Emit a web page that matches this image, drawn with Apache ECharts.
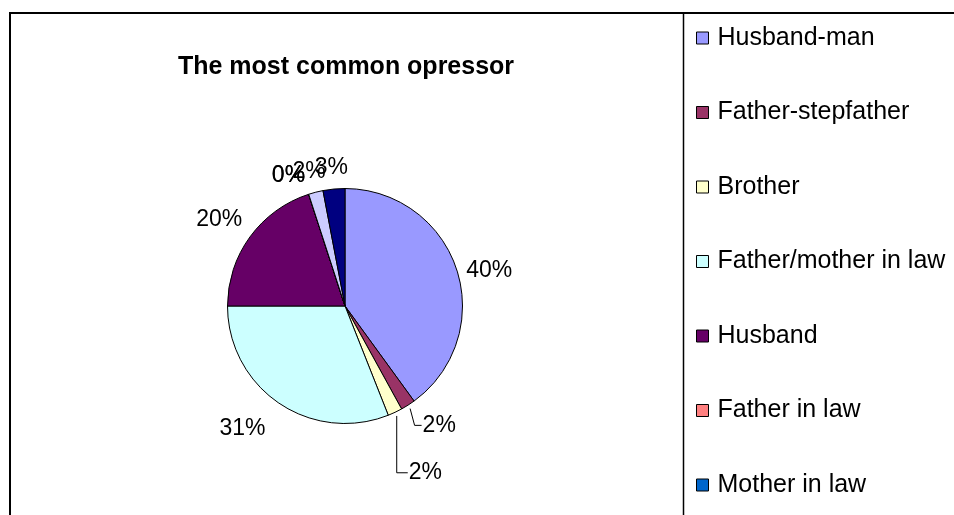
<!DOCTYPE html>
<html>
<head>
<meta charset="utf-8">
<script src="https://cdn.jsdelivr.net/npm/echarts@6/dist/echarts.min.js"></script>
<style>
  html, body { margin: 0; padding: 0; background: #fff; }
  #chart { width: 954px; height: 515px; }
</style>
</head>
<body>
<div id="chart"></div>
<script>
// Who the most common oppressor is, in percent of answers
const categories = [
  'Husband-man', 'Father-stepfather', 'Brother', 'Father/mother in law',
  'Husband', 'Father in law', 'Mother in law', 'Other relatives', 'Others'
];
const values = [40, 2, 2, 31, 20, 0, 0, 2, 3];
const sliceColors = [
  '#9999FF', '#993366', '#FFFFCC', '#CCFFFF',
  '#660066', '#FF8080', '#0066CC', '#CCCCFF', '#000080'
];
// only the first seven entries fit in the legend box
const legendNames = categories.slice(0, 7);

const FONT = '"Liberation Sans", Arial, sans-serif';
const CX = 345, CY = 306, R = 117.5;   // pie centre and radius in px
const GAP = 10;                        // space between rim and label box
// per-label shifts so the labels sit where the spreadsheet put them
const labelNudge = {
  0: [1, 8], 1: [17, 2], 2: [19, 41], 3: [-18, 8], 4: [-4, -5], 5: [-12, 2], 6: [-12, 2]
};
// labels that get a leader line
const withLeader = { 1: 'elbow', 2: 'drop' };

const total = values.reduce((a, b) => a + b, 0);
const cumBefore = values.map((_, i) => values.slice(0, i).reduce((a, b) => a + b, 0));

const chart = echarts.init(document.getElementById('chart'), null, { renderer: 'canvas' });

const data = categories.map((name, i) => ({
  name: name,
  value: values[i],
  itemStyle: { color: sliceColors[i] },
  labelLine: { show: !!withLeader[i] }
}));

chart.setOption({
  animation: false,
  backgroundColor: '#ffffff',
  title: {
    text: 'The most common opressor',
    left: CX - 4,
    top: 50,
    textAlign: 'center',
    textStyle: { fontFamily: FONT, fontSize: 25, fontWeight: 'bold', color: '#000' }
  },
  legend: {
    data: legendNames,
    orient: 'vertical',
    left: 696,
    top: 25,
    padding: 0,
    itemWidth: 12,
    itemHeight: 12,
    itemGap: 48.5,
    icon: 'rect',
    selectedMode: false,
    itemStyle: { borderColor: '#000', borderWidth: 1 },
    textStyle: { fontFamily: FONT, fontSize: 25, color: '#000', lineHeight: 26, padding: [0, 0, 0, 4] }
  },
  graphic: [
    {
      type: 'rect',
      shape: { x: 10, y: 13, width: 1000, height: 600 },
      style: { fill: 'none', stroke: '#000', lineWidth: 2 },
      silent: true
    },
    {
      type: 'line',
      shape: { x1: 683.5, y1: 13, x2: 683.5, y2: 515 },
      style: { stroke: '#000', lineWidth: 1.5 },
      silent: true
    }
  ],
  series: [{
    type: 'pie',
    center: [CX, CY],
    radius: R,
    startAngle: 90,
    clockwise: true,
    avoidLabelOverlap: false,
    minShowLabelAngle: 0,
    itemStyle: { borderColor: '#000', borderWidth: 1 },
    emphasis: { disabled: true },
    label: {
      show: true,
      position: 'outside',
      fontFamily: FONT,
      fontSize: 23,
      color: '#000',
      formatter: p => p.value + '%'
    },
    labelLine: {
      length: 0,
      length2: 0,
      lineStyle: { color: '#000', width: 1 }
    },
    labelLayout: function (p) {
      const i = p.dataIndex;
      const a = (cumBefore[i] + values[i] / 2) / total * Math.PI * 2;
      const dx = Math.sin(a), dy = -Math.cos(a);
      const hw = p.labelRect.width / 2, hh = p.labelRect.height / 2;
      const n = labelNudge[i] || [0, 0];
      const x = CX + dx * (R + GAP + hw) + n[0];
      const y = CY + dy * (R + GAP + hh) + n[1];
      const out = { x: x, y: y, align: 'center', verticalAlign: 'middle' };
      const kind = withLeader[i];
      if (kind) {
        // start just outside the rim at the slice's middle angle
        const sx = CX + dx * (R + 4), sy = CY + dy * (R + 4);
        const left = x - hw - 1;
        if (kind === 'drop') {
          out.labelLinePoints = [[sx, sy], [sx, y], [left, y]];
        } else {
          out.labelLinePoints = [[sx, sy], [left - 7, y], [left, y]];
        }
      }
      return out;
    },
    data: data
  }]
});
</script>
</body>
</html>
